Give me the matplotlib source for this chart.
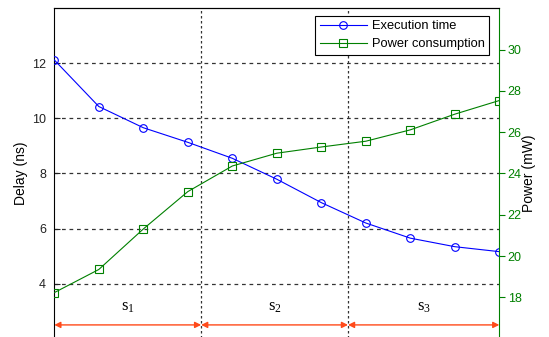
import matplotlib
matplotlib.use('Agg')
import matplotlib.pyplot as plt

plt.rcParams.update({'font.family': ['Liberation Sans', 'DejaVu Sans'], 'font.size': 9})

BLUE = '#0000FF'
GREEN = '#008000'
RED = '#FF4A1A'

# data
steps = list(range(11))
delay_ns = [12.12, 10.43, 9.66, 9.13, 8.55, 7.79, 6.94, 6.20, 5.65, 5.34, 5.16]
power_mw = [18.23, 19.35, 21.31, 23.12, 24.36, 24.98, 25.28, 25.56, 26.11, 26.87, 27.53]
seg_edges = [0, 3.3, 6.6, 10]
seg_labels = ['1', '2', '3']
left_ticks = [4, 6, 8, 10, 12]
right_ticks = [18, 20, 22, 24, 26, 28, 30]

fig = plt.figure(figsize=(5.49, 3.37), dpi=100)
fig.patch.set_facecolor('white')
ax = fig.add_axes([0.0989, -0.005, 0.8106, 0.9807])
ax2 = ax.twinx()

l1, = ax.plot(steps, delay_ns, color=BLUE, lw=0.8, marker='o', ms=5.5,
              mfc='none', mec=BLUE, mew=0.8, label='Execution time', zorder=3)
l2, = ax2.plot(steps, power_mw, color=GREEN, lw=0.8, marker='s', ms=5.5,
               mfc='none', mec=GREEN, mew=0.8, label='Power consumption', zorder=3)

ax.set_xlim(0, 10)
ax.set_ylim(2, 14)
ax2.set_ylim(16, 32)
ax.set_xticks([])
ax.set_yticks(left_ticks)
ax2.set_yticks(right_ticks)

# grid
for t in left_ticks:
    ax.axhline(t, color='#333333', lw=0.9, ls=(0, (3, 3)), zorder=1)
for x in seg_edges[1:-1]:
    ax.axvline(x, color='#333333', lw=0.9, ls=(0, (2, 2)), zorder=1)

ax.tick_params(axis='y', direction='in', length=4, pad=6, colors='#222222')
ax2.tick_params(axis='y', direction='out', length=4, pad=2, colors=GREEN)
for s in ['left', 'top']:
    ax.spines[s].set_color('black')
ax2.spines['right'].set_color(GREEN)
ax2.spines['left'].set_visible(False)
ax2.spines['top'].set_color('black')
ax.spines['right'].set_visible(False)

ax.set_ylabel('Delay (ns)', fontsize=10, labelpad=3)
ax2.set_ylabel('Power (mW)', fontsize=10, labelpad=0.5)

# segment arrows and labels
for i, lab in enumerate(seg_labels):
    a, b = seg_edges[i], seg_edges[i + 1]
    ax.annotate('', xy=(b, 2.5), xytext=(a, 2.5),
                arrowprops=dict(arrowstyle='<|-|>', color=RED, lw=1.0,
                                mutation_scale=9, shrinkA=0, shrinkB=0))
    ax.text((a + b) / 2, 3.15, r'$\mathregular{s_%s}$' % lab, fontsize=12,
            family='Liberation Serif', ha='center', va='center')

leg = ax2.legend([l1, l2], ['Execution time', 'Power consumption'],
                 loc='upper right', bbox_to_anchor=(0.977, 0.977),
                 borderaxespad=0, fancybox=False, framealpha=1,
                 edgecolor='black', handlelength=3.6, fontsize=9.3,
                 labelspacing=0.45, borderpad=0.35, handletextpad=0.4)
leg.get_frame().set_linewidth(0.8)

fig.savefig('out.png', dpi=100, facecolor='white')
